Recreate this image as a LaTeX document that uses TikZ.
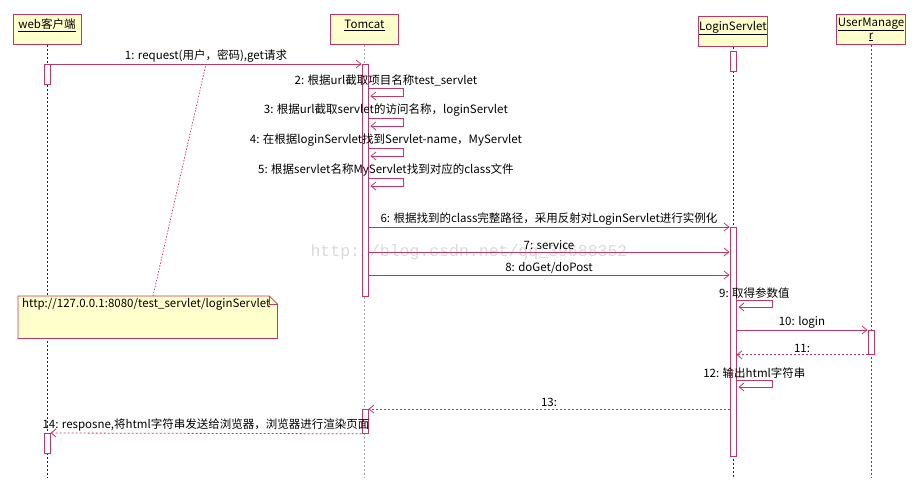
\documentclass[tikz,border=0pt]{standalone}
\usepackage{fontspec}
\setmainfont{Noto Sans CJK SC}
\newfontfamily\wmfont{Liberation Mono}
\usetikzlibrary{arrows.meta}
\definecolor{umlred}{RGB}{188,56,102}
\definecolor{umlyellow}{RGB}{255,255,204}
\tikzset{
  head/.style={draw=umlred, fill=umlyellow, line width=0.8pt, anchor=north,
    minimum width=68pt, minimum height=30pt, inner xsep=1pt, inner ysep=3pt},
  headtxt/.style={head, text height=11pt, text depth=13pt},
  life/.style={black!85, line width=0.6pt, dash pattern=on 2pt off 2pt},
  act/.style={draw=umlred, fill=white, line width=0.8pt, anchor=north,
    minimum width=6pt, inner sep=0pt},
  msg/.style={umlred, line width=0.8pt, ->},
  ret/.style={msg, dash pattern=on 2pt off 2pt},
  lbl/.style={above, inner sep=1.5pt, text=black},
  notebox/.style={fill=umlyellow, anchor=north west, align=left, text width=251pt,
    inner xsep=4pt, inner ysep=2pt, text height=9pt, text depth=29pt},
}
\begin{document}
\begin{tikzpicture}[x=1pt, y=-1pt, >={Straight Barb[length=5pt,width=8pt]},
  font=\fontsize{11.5pt}{13pt}\selectfont]
\useasboundingbox (0,0) rectangle (921,484);

%% 水印
\node[text=gray!30, font=\wmfont\fontsize{16.5pt}{17pt}\selectfont] (wm) at (469,252)
  {http://blog.csdn.net/qq\_39688352};

%% 对象(生命线头部)
\node[headtxt] (web) at (47,14) {\underline{web客户端}};
\node[headtxt] (tomcat) at (364.5,14) {\underline{Tomcat}};
\node[headtxt] (login) at (733,16) {\underline{LoginServlet}};
\node[head, align=center] (user) at (871,14) {\underline{UserManage}\\\underline{r}};

%% 生命线, 统一画到最底部
\coordinate (bottom) at (0,477);
\draw[life] (web.south) -- (web.south |- bottom);
\draw[life, gray!70] (tomcat.south) -- (tomcat.south |- bottom);
\draw[life] (login.south) -- (login.south |- bottom);
\draw[life, black!70] (user.south) -- (user.south |- bottom);

%% 激活框
\node[act, minimum height=20pt] (webA1) at (47,64) {};
\node[act, minimum height=20pt] (webA2) at (47,433) {};
\node[act, minimum height=232pt] (tomcatA1) at (365,64) {};
\node[act, minimum height=24pt] (tomcatA2) at (365,409) {};
\node[act, minimum height=20pt] (loginA1) at (733,51) {};
\node[act, minimum height=229pt] (loginA2) at (733,227) {};
\node[act, minimum height=24pt] (userA1) at (871,330) {};

%% 消息所在的高度
\coordinate (m2) at (0,88);
\coordinate (m3) at (0,118);
\coordinate (m4) at (0,148);
\coordinate (m5) at (0,178);
\coordinate (m7) at (0,252);
\coordinate (m8) at (0,275);
\coordinate (m9) at (0,300);
\coordinate (m12) at (0,380);

\draw[msg] (webA1.north east) -- node[lbl] (l1) {1: request(用户，密码),get请求}
  coordinate[midway] (m1c) (tomcatA1.north west);

%% 自调用: 先向右, 再向下, 再折回
\draw[msg] (tomcatA1.east |- m2) -- node[lbl] (l2) {2: 根据url截取项目名称test\_servlet}
  ++(35,0) -- ++(0,8) -- ++(-33,0);
\draw[msg] (tomcatA1.east |- m3) -- node[lbl] (l3) {3: 根据url截取servlet的访问名称，loginServlet}
  ++(35,0) -- ++(0,8) -- ++(-33,0);
\draw[msg] (tomcatA1.east |- m4) -- node[lbl] (l4) {4: 在根据loginServlet找到Servlet-name，MyServlet}
  ++(35,0) -- ++(0,8) -- ++(-33,0);
\draw[msg] (tomcatA1.east |- m5) -- node[lbl] (l5) {5: 根据servlet名称MyServlet找到对应的class文件}
  ++(35,0) -- ++(0,8) -- ++(-33,0);

\draw[msg] (tomcatA1.east |- loginA2.north) -- node[lbl] (l6)
  {6: 根据找到的class完整路径，采用反射对LoginServlet进行实例化} (loginA2.north west);
\draw[msg] (tomcatA1.east |- m7) -- node[lbl] (l7) {7: service} (loginA2.west |- m7);
\draw[msg] (tomcatA1.east |- m8) -- node[lbl] (l8) {8: doGet/doPost} (loginA2.west |- m8);

\draw[msg] (loginA2.east |- m9) -- node[lbl] (l9) {9: 取得参数值}
  ++(36,0) -- ++(0,7) -- ++(-34,0);
\draw[msg] (loginA2.east |- userA1.north) -- node[lbl] (l10) {10: login} (userA1.north west);
\draw[ret] (userA1.south west) -- node[lbl] (l11) {11:} (loginA2.east |- userA1.south);
\draw[msg] (loginA2.east |- m12) -- node[lbl] (l12) {12: 输出html字符串}
  ++(36,0) -- ++(0,7) -- ++(-34,0);

\draw[ret] (loginA2.west |- tomcatA2.north) -- node[lbl] (l13) {13:} (tomcatA2.north east);
\draw[ret] (tomcatA2.south west) -- node[lbl] (l14)
  {14: resposne,将html字符串发送给浏览器，浏览器进行渲染页面} (webA2.north east);

%% 注释框(右上角折角)
\node[notebox] (note) at (18,296) {http://127.0.0.1:8080/test\_servlet/loginServlet};
\fill[white] ([xshift=-8pt]note.north east) -- (note.north east) -- ([yshift=-8pt]note.north east) -- cycle;
\draw[umlred, line width=0.8pt] (note.north west) -- ([xshift=-8pt]note.north east)
  -- ([yshift=-8pt]note.north east) -- (note.south east) -- (note.south west) -- cycle;
\draw[umlred, line width=0.6pt] ([xshift=-8pt]note.north east) |- ([yshift=-8pt]note.north east);
\draw[umlred, line width=0.7pt, dash pattern=on 1.5pt off 1.5pt] ([xshift=135pt]note.north west) -- (m1c);
\end{tikzpicture}
\end{document}
